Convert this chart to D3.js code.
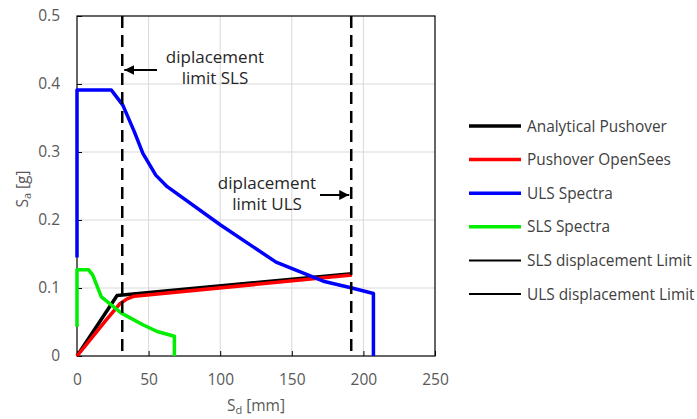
<!DOCTYPE html>
<html>
<head>
<meta charset="utf-8">
<script src="https://cdn.jsdelivr.net/npm/d3@7"></script>
<style>
  body { margin: 0; background: #fff; }
  text { font-family: "Open Sans", sans-serif; }
</style>
</head>
<body>
<svg width="697" height="419"></svg>
<script>
// data (Sd in mm, Sa in g)
var pushSd = [0, 28, 192],
    pushSa = [0, 0.089, 0.121];
var openSd = [0, 10, 20, 30, 35, 40, 192],
    openSa = [0, 0.026, 0.052, 0.077, 0.084, 0.088, 0.119];
var ulsSd = [0, 0, 24, 32, 40, 46, 55, 63, 100, 139, 172, 192, 207, 207],
    ulsSa = [0.145, 0.391, 0.391, 0.369, 0.33, 0.298, 0.266, 0.249, 0.193, 0.138, 0.11, 0.1, 0.092, 0];
var slsSd = [0, 0, 8, 11, 17, 31, 46, 56, 68, 68],
    slsSa = [0.043, 0.127, 0.127, 0.119, 0.087, 0.063, 0.046, 0.036, 0.029, 0];
var slsLimit = 31.6,
    ulsLimit = 191.5;
var xTicks = [0, 50, 100, 150, 200, 250],
    yTicks = [0, 0.1, 0.2, 0.3, 0.4, 0.5];
var legendNames = ["Analytical Pushover", "Pushover OpenSees", "ULS Spectra", "SLS Spectra",
                   "SLS displacement Limit", "ULS displacement Limit"];

var svg = d3.select("svg");
var x = d3.scaleLinear().domain([0, 250]).range([77, 435]),
    y = d3.scaleLinear().domain([0, 0.5]).range([356, 16]);

// grid
svg.append("g").selectAll("line.gx")
  .data(xTicks.slice(1, -1)).enter().append("line")
  .attr("x1", function(d){ return x(d); }).attr("x2", function(d){ return x(d); })
  .attr("y1", y(0)).attr("y2", y(0.5))
  .attr("stroke", "#d9d9d9").attr("stroke-width", 1);
svg.append("g").selectAll("line.gy")
  .data(yTicks.slice(1, -1)).enter().append("line")
  .attr("x1", x(0)).attr("x2", x(250))
  .attr("y1", function(d){ return y(d); }).attr("y2", function(d){ return y(d); })
  .attr("stroke", "#d9d9d9").attr("stroke-width", 1);

// axes
var xAxis = svg.append("g").attr("transform", "translate(0," + y(0) + ")")
  .call(d3.axisBottom(x).tickValues(xTicks).tickSize(-5).tickPadding(18).tickFormat(d3.format("d")));
var yAxis = svg.append("g").attr("transform", "translate(" + x(0) + ",0)")
  .call(d3.axisLeft(y).tickValues(yTicks).tickSize(-5).tickPadding(17).tickFormat(function(d){ return d === 0 ? "0" : d3.format(".1f")(d); }));
[xAxis, yAxis].forEach(function(a){
  a.select(".domain").remove();
  a.selectAll("line").attr("stroke", "#000");
  a.selectAll("text").attr("fill", "#595959").style("font-size", "15.5px").style("font-family", "'Open Sans', sans-serif");
});

svg.append("rect")
  .attr("x", x(0)).attr("y", y(0.5))
  .attr("width", x(250) - x(0)).attr("height", y(0) - y(0.5))
  .attr("fill", "none").attr("stroke", "#000").attr("stroke-width", 1.2);

// series
var line = d3.line().x(function(d){ return x(d[0]); }).y(function(d){ return y(d[1]); });
var series = [
  {sd: pushSd, sa: pushSa, color: "#000000"},
  {sd: openSd, sa: openSa, color: "#ff0000"},
  {sd: ulsSd, sa: ulsSa, color: "#0000ff"},
  {sd: slsSd, sa: slsSa, color: "#00ee00"}
];
svg.append("g").selectAll("path")
  .data(series).enter().append("path")
  .attr("d", function(s){ return line(d3.zip(s.sd, s.sa)); })
  .attr("fill", "none")
  .attr("stroke", function(s){ return s.color; })
  .attr("stroke-width", 3.5)
  .attr("stroke-linejoin", "round");

// displacement limits
svg.append("g").selectAll("line")
  .data([slsLimit, ulsLimit]).enter().append("line")
  .attr("x1", function(d){ return x(d); }).attr("x2", function(d){ return x(d); })
  .attr("y1", y(0.5)).attr("y2", y(0))
  .attr("stroke", "#000").attr("stroke-width", 2.5)
  .attr("stroke-dasharray", "12,7");

// annotations
svg.append("defs").append("marker")
  .attr("id", "arr").attr("viewBox", "0 0 10 10")
  .attr("refX", 10).attr("refY", 5)
  .attr("markerWidth", 5).attr("markerHeight", 5)
  .attr("orient", "auto")
  .append("path").attr("d", "M0,0L10,5L0,10z").attr("fill", "#000");

svg.append("line").attr("x1", 157).attr("y1", 70).attr("x2", x(slsLimit) + 2).attr("y2", 70)
  .attr("stroke", "#000").attr("stroke-width", 2).attr("marker-end", "url(#arr)");
svg.append("line").attr("x1", 320).attr("y1", 195).attr("x2", x(ulsLimit) - 2).attr("y2", 195)
  .attr("stroke", "#000").attr("stroke-width", 2).attr("marker-end", "url(#arr)");

var notes = [
  {cx: 215, y: 63, lines: ["diplacement", "limit SLS"]},
  {cx: 267, y: 189, lines: ["diplacement", "limit ULS"]}
];
notes.forEach(function(n){
  var t = svg.append("text").attr("text-anchor", "middle").attr("fill", "#262626").style("font-size", "17px");
  n.lines.forEach(function(l, i){
    t.append("tspan").attr("x", n.cx).attr("y", n.y + i * 21).text(l);
  });
});

// axis titles
var xt = svg.append("text").attr("x", 256).attr("y", 411).attr("text-anchor", "middle")
  .attr("fill", "#595959").style("font-size", "15.5px");
xt.append("tspan").text("S");
xt.append("tspan").attr("dy", 3).style("font-size", "11px").text("d");
xt.append("tspan").attr("dy", -3).text(" [mm]");

var yt = svg.append("text").attr("transform", "translate(28,189) rotate(-90)").attr("text-anchor", "middle")
  .attr("fill", "#595959").style("font-size", "15.5px");
yt.append("tspan").text("S");
yt.append("tspan").attr("dy", 3).style("font-size", "11px").text("a");
yt.append("tspan").attr("dy", -3).text(" [g]");

// legend
var legColors = ["#000000", "#ff0000", "#0000ff", "#00ee00", "#000000", "#000000"],
    legWidths = [3.5, 3.5, 3.5, 3.5, 2, 2];
var leg = svg.append("g").selectAll("g")
  .data(legendNames).enter().append("g")
  .attr("transform", function(d, i){ return "translate(0," + (126 + i * 33.6) + ")"; });
leg.append("line").attr("x1", 469).attr("x2", 521).attr("y1", 0).attr("y2", 0)
  .attr("stroke", function(d, i){ return legColors[i]; })
  .attr("stroke-width", function(d, i){ return legWidths[i]; });
leg.append("text").attr("x", 527).attr("y", 5.5)
  .attr("fill", "#404040").style("font-size", "15.4px")
  .text(function(d){ return d; });
</script>
</body>
</html>
